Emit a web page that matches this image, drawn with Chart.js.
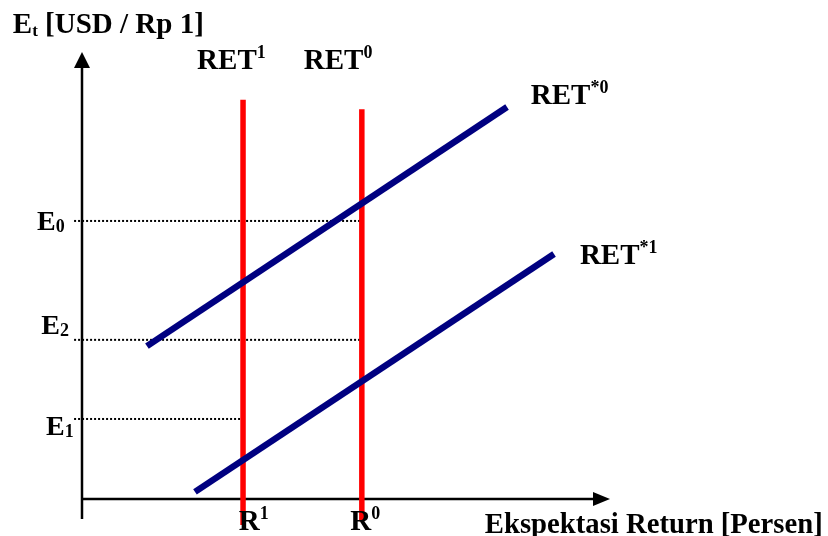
<!DOCTYPE html>
<html>
<head>
<meta charset="utf-8">
<script src="https://cdn.jsdelivr.net/npm/chart.js@4/dist/chart.umd.min.js"></script>
<style>
  html, body { margin: 0; padding: 0; background: #fff; }
  #wrap { width: 828px; height: 536px; position: relative; }
</style>
</head>
<body>
<div id="wrap"><canvas id="retChart"></canvas></div>
<script>
// exchange rate levels (y) and where their dotted guide stops (x)
const levelNames = ['E0', 'E2', 'E1'];
const levelValues = [6.22, 3.56, 1.79];
const levelEndX = [5.30, 5.30, 3.05];

// domestic deposit return (vertical lines)
const retNames = ['RET1', 'RET0'];
const retX = [3.05, 5.30];
const retTop = [8.93, 8.72];
const retBottom = [-0.58, -0.50];

// expected foreign return schedules (start / end points)
const foreignNames = ['RET*0', 'RET*1'];
const foreignStartX = [1.23, 2.14];
const foreignStartY = [3.42, 0.16];
const foreignEndX = [8.05, 8.94];
const foreignEndY = [8.77, 5.48];

// axis extents
const axisXMax = 10;
const axisYMax = 10;

const datasets = [];

foreignNames.forEach((name, i) => {
    datasets.push({
        label: name,
        data: [{x: foreignStartX[i], y: foreignStartY[i]}, {x: foreignEndX[i], y: foreignEndY[i]}],
        borderColor: '#000080',
        borderWidth: 6.5,
        order: 0
    });
});

retNames.forEach((name, i) => {
    datasets.push({
        label: name,
        data: [{x: retX[i], y: retBottom[i]}, {x: retX[i], y: retTop[i]}],
        borderColor: '#ff0000',
        borderWidth: 5.5,
        order: 1
    });
});

levelNames.forEach((name, i) => {
    datasets.push({
        label: name,
        data: [{x: -0.15, y: levelValues[i]}, {x: levelEndX[i], y: levelValues[i]}],
        borderColor: '#000',
        borderWidth: 2,
        borderDash: [2, 2],
        order: 2
    });
});

datasets.push({
    label: 'yaxis',
    data: [{x: 0, y: -0.45}, {x: 0, y: axisYMax - 0.3}],
    borderColor: '#000', borderWidth: 2.5, order: 3
});
datasets.push({
    label: 'xaxis',
    data: [{x: 0, y: 0}, {x: axisXMax - 0.3, y: 0}],
    borderColor: '#000', borderWidth: 2.5, order: 3
});

// text annotations: [text, size, baseline shift]
const texts = [
    {x: -1.31, y: 10.43, parts: [['E', 29, 0], ['t', 17, 3], [' [USD / Rp 1]', 29, 0]]},
    {x: 2.18, y: 9.62, parts: [['RET', 29, 0], ['1', 18, -11]]},
    {x: 4.20, y: 9.62, parts: [['RET', 29, 0], ['0', 18, -11]]},
    {x: 8.50, y: 8.84, parts: [['RET', 29, 0], ['*0', 18, -11]]},
    {x: 9.43, y: 5.26, parts: [['RET', 29, 0], ['*1', 18, -11]]},
    {x: -0.85, y: 6.02, parts: [['E', 28, 0], ['0', 18, 2]]},
    {x: -0.77, y: 3.69, parts: [['E', 28, 0], ['2', 18, 2]]},
    {x: -0.68, y: 1.43, parts: [['E', 28, 0], ['1', 18, 2]]},
    {x: 2.97, y: -0.69, parts: [['R', 29, 0], ['1', 18, -11]]},
    {x: 5.08, y: -0.69, parts: [['R', 29, 0], ['0', 18, -11]]},
    {x: 7.63, y: -0.76, parts: [['Ekspektasi Return [Persen]', 28.7, 0]]}
];

const drawExtras = {
    id: 'drawExtras',
    afterDatasetsDraw(chart) {
        const ctx = chart.ctx;
        const xs = chart.scales.x, ys = chart.scales.y;
        ctx.save();
        ctx.fillStyle = '#000';
        // arrow heads
        const ox = xs.getPixelForValue(0), oy = ys.getPixelForValue(0);
        const ty = ys.getPixelForValue(axisYMax);
        ctx.beginPath();
        ctx.moveTo(ox, ty);
        ctx.lineTo(ox - 8, ty + 16);
        ctx.lineTo(ox + 8, ty + 16);
        ctx.closePath();
        ctx.fill();
        const tx = xs.getPixelForValue(axisXMax);
        ctx.beginPath();
        ctx.moveTo(tx, oy);
        ctx.lineTo(tx - 17, oy - 7);
        ctx.lineTo(tx - 17, oy + 7);
        ctx.closePath();
        ctx.fill();
        // labels
        ctx.textBaseline = 'alphabetic';
        ctx.textAlign = 'left';
        texts.forEach(t => {
            let px = xs.getPixelForValue(t.x);
            const py = ys.getPixelForValue(t.y);
            t.parts.forEach(([s, size, dy]) => {
                ctx.font = 'bold ' + size + 'px "Liberation Serif", "Times New Roman", serif';
                ctx.fillText(s, px, py + dy);
                px += ctx.measureText(s).width;
            });
        });
        ctx.restore();
    }
};

new Chart(document.getElementById('retChart'), {
    type: 'scatter',
    data: { datasets: datasets },
    options: {
        responsive: true,
        maintainAspectRatio: false,
        animation: false,
        showLine: true,
        layout: { padding: 0 },
        elements: { point: { radius: 0, hoverRadius: 0 }, line: { tension: 0 } },
        plugins: { legend: { display: false }, tooltip: { enabled: false } },
        scales: {
            x: { type: 'linear', display: false, min: -1.553, max: 14.129 },
            y: { type: 'linear', display: false, min: -0.828, max: 11.163 }
        }
    },
    plugins: [drawExtras]
});
</script>
</body>
</html>
